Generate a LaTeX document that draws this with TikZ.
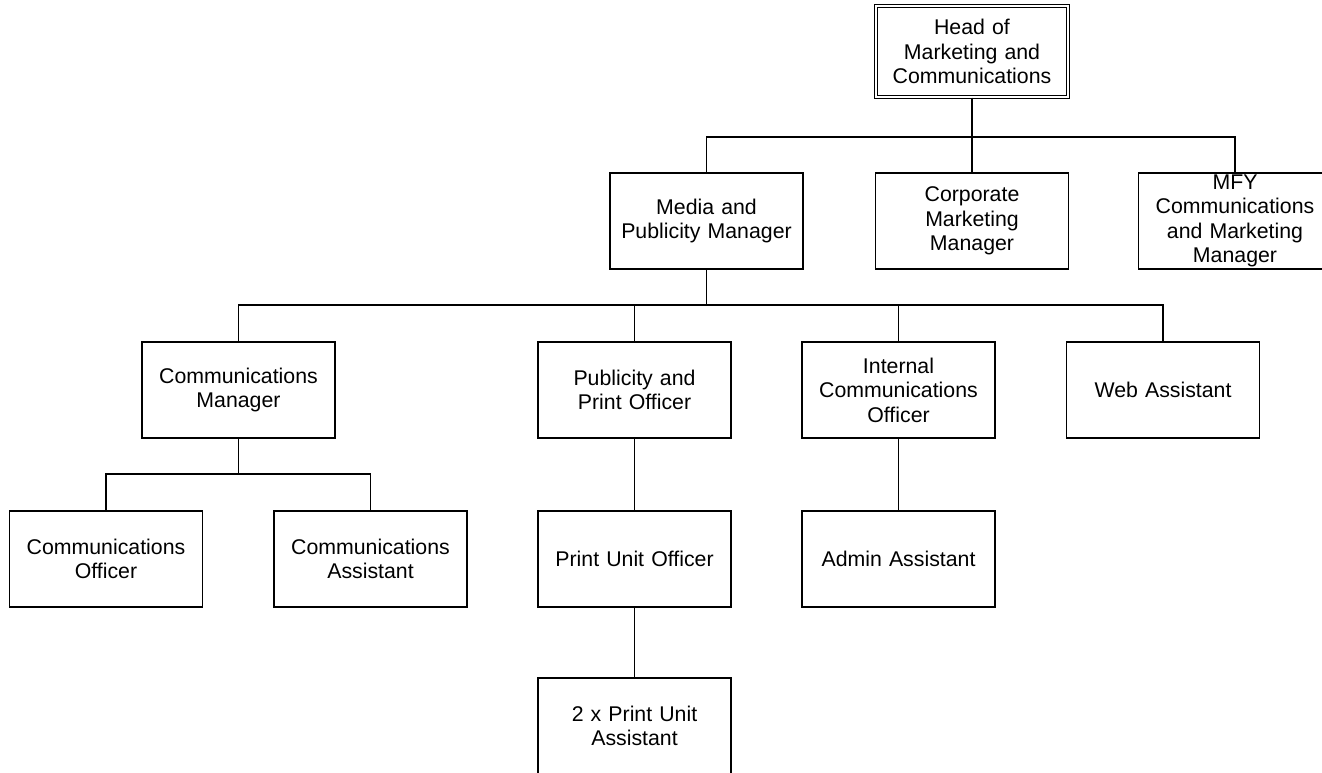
\documentclass[tikz,border=0pt]{standalone}
\usepackage{fontspec}
\setmainfont{Liberation Sans}

\tikzset{
    post/.style={draw, line width=1.5pt, minimum width=193pt, minimum height=96pt,
        inner xsep=2pt, inner ysep=0pt, text width=188pt, align=center,
        font=\fontsize{21.3}{24.5}\selectfont},
    conn/.style={line width=1.6pt}
}

\begin{document}
\begin{tikzpicture}[x=1pt,y=-1pt]
    \useasboundingbox (0,0) rectangle (1322,772);

    % Top
    \node[post, double, line width=1.3pt, double distance=2pt,
          minimum width=182pt, minimum height=91pt] (head) at (972,51.5)
        {Head of\\Marketing and\\Communications};

    % Managers
    \node[post] (media) at (706.5,221) {Media and\\Publicity Manager};
    \node[post] (corp)  at (972,221)   {Corporate\\Marketing\\Manager};
    \node[post] (mfy)   at (1235,221)  {MFY\\Communications\\and Marketing\\Manager};

    % Officers
    \node[post] (cmgr) at (238.5,390) {Communications\\Manager};
    \node[post] (pub)  at (634.5,390) {Publicity and\\Print Officer};
    \node[post] (intl) at (898.5,390) {Internal\\Communications\\Officer};
    \node[post] (web)  at (1163,390)  {Web Assistant};

    % Staff
    \node[post] (coff)   at (106,559)   {Communications\\Officer};
    \node[post] (cass)   at (370.5,559) {Communications\\Assistant};
    \node[post] (print)  at (634.5,559) {Print Unit Officer};
    \node[post] (admin)  at (898.5,559) {Admin Assistant};
    \node[post] (passt)  at (634.5,726) {2 x Print Unit\\Assistant};

    % buses
    \coordinate (bus1) at (972,137);
    \coordinate (bus2) at (706.5,305);
    \coordinate (bus3) at (238.5,474);

    \draw[conn] (head) -- (corp);
    \draw[conn] (media.north) |- (bus1) -| (mfy.north);
    \draw[conn] (media) -- (bus2);
    \draw[conn] (cmgr.north) |- (bus2) -| (web.north);
    \draw[conn] (pub) -- (pub.north |- bus2);
    \draw[conn] (intl) -- (intl.north |- bus2);
    \draw[conn] (cmgr) -- (bus3);
    \draw[conn] (coff.north) |- (bus3) -| (cass.north);
    \draw[conn] (pub) -- (print);
    \draw[conn] (intl) -- (admin);
    \draw[conn] (print) -- (passt);
\end{tikzpicture}
\end{document}
